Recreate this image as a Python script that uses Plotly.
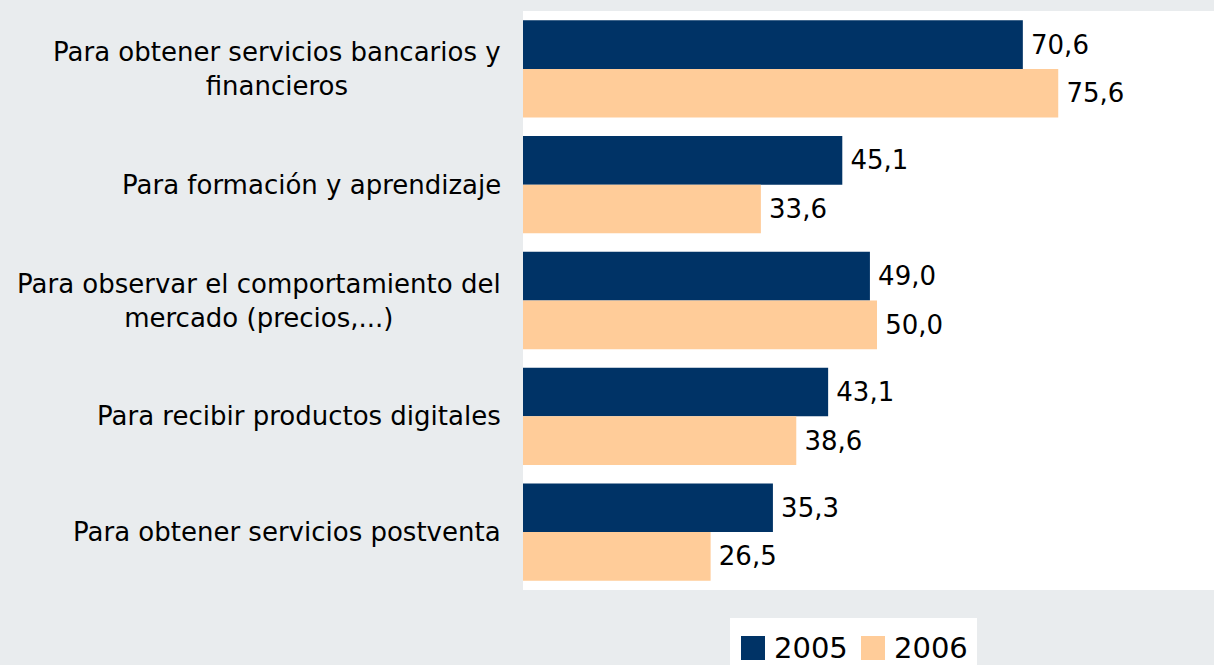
import plotly.graph_objects as go

# Uso de Internet por las empresas: motivos (% de empresas)
categories = [
    "Para obtener servicios bancarios y<br>financieros",
    "Para formación y aprendizaje",
    "Para observar el comportamiento del<br>mercado (precios,...)",
    "Para recibir productos digitales",
    "Para obtener servicios postventa",
]
values_2005 = [70.6, 45.1, 49.0, 43.1, 35.3]
values_2006 = [75.6, 33.6, 50.0, 38.6, 26.5]
series_names = ["2005", "2006"]
colors = ["#003366", "#FFCC99"]

FONT = "DejaVu Sans"
W, H = 1214, 665
M_L, M_R, M_T, M_B = 523, 0, 11, 75
PW, PH = W - M_L - M_R, H - M_T - M_B


def px_x(x):
    return (x - M_L) / PW


def px_y(y):
    return (H - M_B - y) / PH


fig = go.Figure()
for name, vals, col in zip(series_names, [values_2005, values_2006], colors):
    fig.add_trace(go.Bar(
        y=categories, x=vals, name=name, orientation="h",
        marker=dict(color=col, line=dict(width=0)),
        texttemplate="\u2009%{x:.1f}", textposition="outside",
        textfont=dict(family=FONT, size=26, color="#000000"),
        constraintext="none", cliponaxis=False, showlegend=False,
    ))

# category labels, lines centred and block right-aligned against the plot
for cat in categories:
    fig.add_annotation(
        x=0, xref="paper", y=cat, yref="y", text=cat, showarrow=False,
        xanchor="right", align="center", xshift=-20,
        font=dict(family=FONT, size=26, color="#000000"),
    )

# legend box
shapes = [dict(type="rect", xref="paper", yref="paper",
               x0=px_x(730), x1=px_x(977), y0=px_y(618), y1=px_y(665),
               fillcolor="#FFFFFF", line=dict(width=0), layer="below")]
for sx, tx, name, col in [(741, 775, "2005", colors[0]), (861, 895, "2006", colors[1])]:
    shapes.append(dict(type="rect", xref="paper", yref="paper",
                       x0=px_x(sx), x1=px_x(sx + 24), y0=px_y(660), y1=px_y(636),
                       fillcolor=col, line=dict(width=0)))
    fig.add_annotation(x=px_x(tx), y=px_y(648), xref="paper", yref="paper",
                       text=name, showarrow=False, xanchor="left", yanchor="middle",
                       xshift=-2, borderpad=0,
                       font=dict(family=FONT, size=29, color="#000000"))

fig.update_layout(
    width=W, height=H, barmode="group", bargap=0.16, bargroupgap=0,
    margin=dict(l=M_L, r=M_R, t=M_T, b=M_B),
    paper_bgcolor="#E9ECEE", plot_bgcolor="#FFFFFF",
    separators=",.", shapes=shapes, showlegend=False,
    xaxis=dict(range=[0, 97.6], visible=False, fixedrange=True),
    yaxis=dict(autorange="reversed", showticklabels=False, showgrid=False,
               zeroline=False, ticks="", fixedrange=True),
    font=dict(family=FONT),
)

fig.write_html("out.html", config={"displayModeBar": False})
